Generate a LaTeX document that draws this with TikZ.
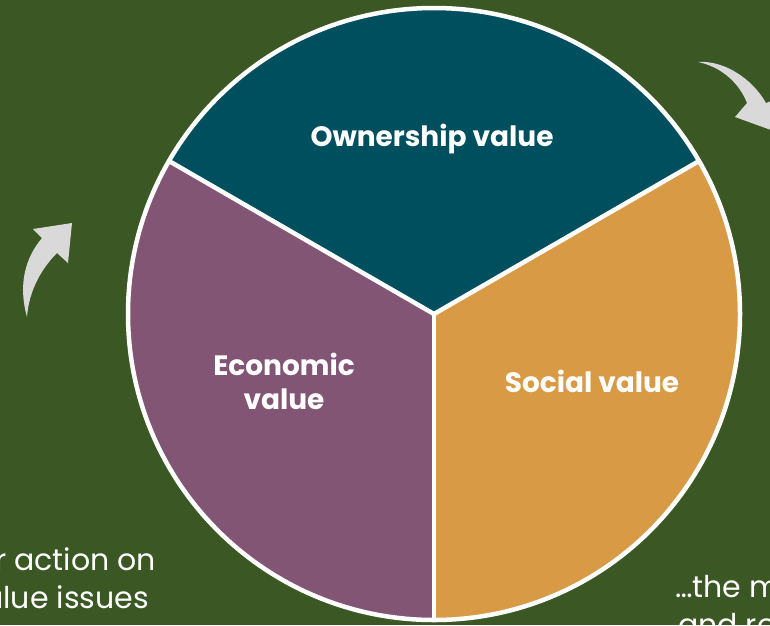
\documentclass[tikz,border=0pt]{standalone}
\usepackage{fontspec}
\setmainfont{Poppins}
\definecolor{bggreen}{HTML}{3A5724}
\definecolor{teal}{HTML}{004F5E}
\definecolor{plum}{HTML}{825574}
\definecolor{ochre}{HTML}{D99A45}
\definecolor{arrowgrey}{HTML}{D9D9D9}
\tikzset{
  spoke/.style={draw=white,line width=4.5pt},
  rim/.style={draw=white,line width=4.5pt},
  label/.style={text=white,font=\bfseries\fontsize{28}{34}\selectfont,align=center,inner sep=0pt},
  bodytext/.style={text=white,font=\fontsize{30}{36}\selectfont,inner sep=0pt},
  curvedarrow/.style={fill=arrowgrey,draw=none}
}
\begin{document}
\begin{tikzpicture}[x=1pt,y=-1pt]
\useasboundingbox (0,0) rectangle (770,625);
\fill[bggreen] (0,0) rectangle (770,625);
\clip (0,0) rectangle (770,625);
\def\R{306}
\coordinate (c) at (434,314);
% sectors
\fill[teal] (c) -- ++(210:\R) arc[start angle=210,end angle=330,radius=\R] -- cycle;
\fill[plum] (c) -- ++(90:\R) arc[start angle=90,end angle=210,radius=\R] -- cycle;
\fill[ochre] (c) -- ++(330:\R) arc[start angle=330,end angle=450,radius=\R] -- cycle;
\coordinate (pa) at ([shift={(210:\R)}]c);
\coordinate (pb) at ([shift={(330:\R)}]c);
\coordinate (pc) at ([shift={(90:\R)}]c);
\draw[spoke] (c) -- (pa);
\draw[spoke] (c) -- (pb);
\draw[spoke] (c) -- (pc);
\draw[rim] (c) circle[radius=\R];
% labels
\node[label] (own) at (432,139) {Ownership value};
\node[label] (eco) at (284,381) {Economic\\value};
\node[label] (soc) at (592,381) {Social value};
% arrows
\fill[curvedarrow] (27,317) .. controls (18,285) and (25,258) .. (42,238)
  -- (33,229) -- (72,223) -- (68,263) -- (57,253)
  .. controls (42,268) and (29,290) .. (27,317) -- cycle;
\fill[curvedarrow] (698,62) .. controls (723,60) and (752,78) .. (766,103)
  -- (795,92) -- (782,134) -- (735,117) -- (747,103)
  .. controls (738,80) and (718,66) .. (698,62) -- cycle;
% bottom texts
\node[bodytext,anchor=base west] (lt1) at (-5,570) {r action on};
\node[bodytext,anchor=base west] (lt2) at (-17,608) {alue issues};
\node[bodytext,anchor=base west] (rt1) at (675,597) {…the m};
\node[bodytext,anchor=base west] (rt2) at (678,635) {and re};
\end{tikzpicture}
\end{document}
